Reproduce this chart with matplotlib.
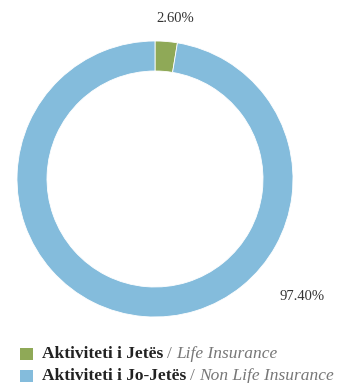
import matplotlib
matplotlib.use("Agg")
import matplotlib.pyplot as plt

labels_bold = ["Aktiviteti i Jetës", "Aktiviteti i Jo-Jetës"]
labels_italic = ["Life Insurance", "Non Life Insurance"]
values = [2.60, 97.40]
pct_labels = ["2.60%", "97.40%"]
colors = ["#8fa957", "#84bcdc"]

W, H = 344, 383
fig = plt.figure(figsize=(W / 100, H / 100), dpi=100)
plt.rcParams['font.family'] = ['Liberation Serif', 'DejaVu Serif']

# donut axes: center (155,179), radius 138 px
cx, cy, R = 155, 179, 138
ax = fig.add_axes([(cx - R) / W, 1 - (cy + R) / H, 2 * R / W, 2 * R / H])
ax.pie(values, colors=colors, startangle=90, counterclock=False,
       wedgeprops=dict(width=30 / R, edgecolor='white', linewidth=0.6),
       radius=1)
ax.set_xlim(-1, 1)
ax.set_ylim(-1, 1)
ax.set_aspect('equal')
ax.axis('off')

def px(x, y):
    return x / W, 1 - y / H

fig.text(*px(175, 19), pct_labels[0], ha='center', va='center', fontsize=10.5, color='#333333')
fig.text(*px(302, 297), pct_labels[1], ha='center', va='center', fontsize=10.5, color='#333333')

# legend
fig.canvas.draw()
renderer = fig.canvas.get_renderer()
rows_y = [353.5, 375.5]
fs = 12.5
for i in range(2):
    y = rows_y[i]
    fig.patches.append(plt.Rectangle(px(20, y + 6), 13 / W, 12 / H, transform=fig.transFigure,
                                     facecolor=colors[i], edgecolor='none', figure=fig))
    t1 = fig.text(*px(42, y), labels_bold[i], ha='left', va='center', fontsize=fs,
                  fontweight='bold', color='#222222')
    bb = t1.get_window_extent(renderer)
    t2 = fig.text(bb.x1 / W + 4 / W, 1 - y / H, "/", ha='left', va='center', fontsize=fs,
                  color='#777777')
    bb2 = t2.get_window_extent(renderer)
    fig.text(bb2.x1 / W + 4 / W, 1 - y / H, labels_italic[i], ha='left', va='center',
             fontsize=fs, style='italic', color='#777777')

fig.savefig("out.png", dpi=100)
